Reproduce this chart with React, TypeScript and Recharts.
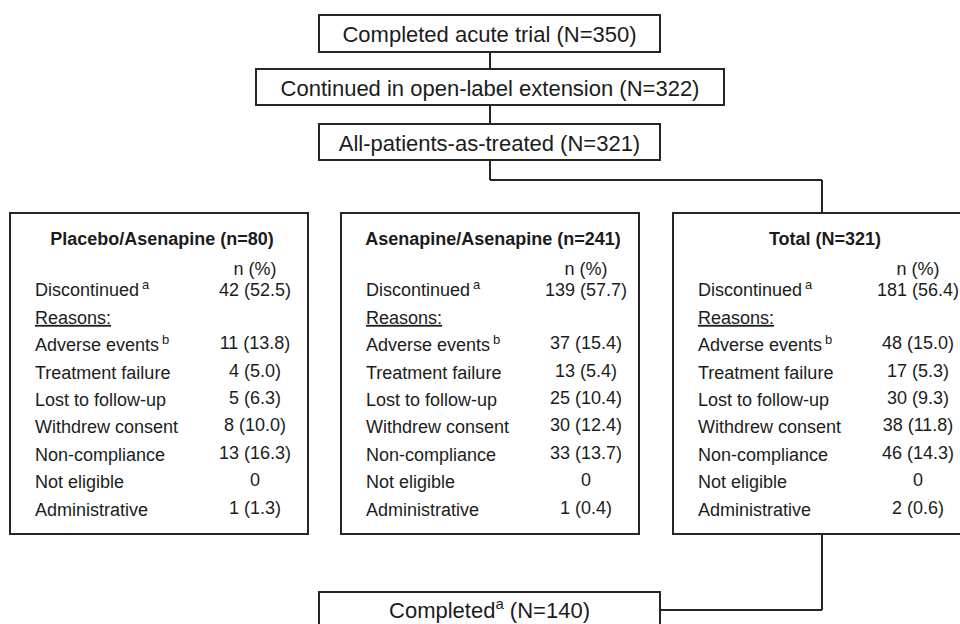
import { ScatterChart, Scatter, XAxis, YAxis, ReferenceArea, ReferenceLine } from 'recharts';

// flow steps at the top
const stepLabels = ['Completed acute trial', 'Continued in open-label extension', 'All-patients-as-treated'];
const stepCounts = [350, 322, 321];

// the three arm boxes
const armNames = ['Placebo/Asenapine', 'Asenapine/Asenapine', 'Total'];
const armNLabel = ['n', 'n', 'N'];
const armN = [80, 241, 321];
const discontinuedN = [42, 139, 181];
const discontinuedPct = [52.5, 57.7, 56.4];

const reasons = ['Adverse events', 'Treatment failure', 'Lost to follow-up', 'Withdrew consent', 'Non-compliance', 'Not eligible', 'Administrative'];
const reasonSup = ['b', '', '', '', '', '', ''];
const placeboN = [11, 4, 5, 8, 13, 0, 1];
const placeboPct = [13.8, 5.0, 6.3, 10.0, 16.3, 0, 1.3];
const asenapineN = [37, 13, 25, 30, 33, 0, 1];
const asenapinePct = [15.4, 5.4, 10.4, 12.4, 13.7, 0, 0.4];
const totalN = [48, 17, 30, 38, 46, 0, 2];
const totalPct = [15.0, 5.3, 9.3, 11.8, 14.3, 0, 0.6];

const completedN = 140;

const W = 960;
const H = 624;
const LINE = '#262626';
const INK = '#1c1c1c';
const FONT = '"Liberation Sans", Arial, sans-serif';

const fmt = (n: number, p: number) => (n === 0 ? '0' : `${n} (${p.toFixed(1)})`);

// layout
const stepBoxes = [
  { x1: 319, x2: 660, y1: 15, y2: 52 },
  { x1: 256, x2: 724, y1: 69, y2: 105 },
  { x1: 319, x2: 660, y1: 124, y2: 160 },
];
const armLeft = [10, 341, 673];
const armW = 298;
const armTop = 213;
const armBottom = 534;
const completedBox = { x1: 319, x2: 660, y1: 592, y2: 640 };
const midX = 490;
const totalX = 822;

type Item = {
  x: number;
  y: number;
  text: string;
  sup?: string;
  supGap?: number;
  after?: string;
  size: number;
  bold?: boolean;
  anchor: 'start' | 'middle' | 'end';
  underline?: boolean;
};

const items: Item[] = [];
stepLabels.forEach((s, i) => {
  const b = stepBoxes[i];
  items.push({ x: (b.x1 + b.x2) / 2, y: (b.y1 + b.y2) / 2 + 1, text: `${s} (N=${stepCounts[i]})`, size: 22, anchor: 'middle' });
});

const armValues = [
  [placeboN, placeboPct],
  [asenapineN, asenapinePct],
  [totalN, totalPct],
];

armNames.forEach((name, a) => {
  const left = armLeft[a];
  const lx = left + 25;
  const vx = left + 245;
  items.push({ x: left + armW / 2 + 3, y: 239, text: `${name} (${armNLabel[a]}=${armN[a]})`, size: 18, bold: true, anchor: 'middle' });
  items.push({ x: vx, y: 269, text: 'n (%)', size: 18, anchor: 'middle' });
  items.push({ x: lx, y: 290, text: 'Discontinued', sup: 'a', supGap: 3, size: 18, anchor: 'start' });
  items.push({ x: vx, y: 290, text: fmt(discontinuedN[a], discontinuedPct[a]), size: 18, anchor: 'middle' });
  items.push({ x: lx, y: 317.4, text: 'Reasons:', size: 18, anchor: 'start', underline: true });
  const [ns, ps] = armValues[a];
  reasons.forEach((r, k) => {
    const y = 344.8 + k * 27.4;
    items.push({ x: lx, y, text: r, sup: reasonSup[k] || undefined, supGap: 3, size: 18, anchor: 'start' });
    items.push({ x: vx, y: y - 2, text: fmt(ns[k], ps[k]), size: 18, anchor: 'middle' });
  });
});

items.push({ x: (completedBox.x1 + completedBox.x2) / 2, y: 610, text: 'Completed', sup: 'a', after: ` (N=${completedN})`, size: 22, anchor: 'middle' });

const connectors = [
  [midX, stepBoxes[0].y2, midX, stepBoxes[1].y1],
  [midX, stepBoxes[1].y2, midX, stepBoxes[2].y1],
  [midX, stepBoxes[2].y2, midX, 180],
  [midX, 180, totalX, 180],
  [totalX, 180, totalX, armTop],
  [totalX, armBottom, totalX, 610],
  [totalX, 610, completedBox.x2, 610],
];

const renderText = (props: any) => {
  const { cx, cy, payload } = props;
  const p = payload as Item;
  const supSize = Math.round(p.size * 0.7);
  return (
    <text
      x={cx}
      y={cy + p.size * 0.36}
      textAnchor={p.anchor}
      fontFamily={FONT}
      fontSize={p.size}
      fontWeight={p.bold ? 700 : 400}
      fill={INK}
      textDecoration={p.underline ? 'underline' : undefined}
    >
      <tspan>{p.text}</tspan>
      {p.sup ? (
        <tspan fontSize={supSize} dx={p.supGap || 0} dy={-p.size * 0.4}>
          {p.sup}
        </tspan>
      ) : null}
      {p.after ? <tspan dy={p.size * 0.4}>{p.after}</tspan> : null}
    </text>
  );
};

export default function App() {
  return (
    <div style={{ position: 'absolute', left: 0, top: 0, width: W, height: H, background: '#fff' }}>
      <ScatterChart width={W} height={H} margin={{ top: 0, right: 0, bottom: 0, left: 0 }}>
        <XAxis type="number" dataKey="x" domain={[0, W]} allowDataOverflow hide />
        <YAxis type="number" dataKey="y" domain={[0, H]} allowDataOverflow reversed hide />
        {stepBoxes.map((b, i) => (
          <ReferenceArea key={`s${i}`} {...b} fill="none" stroke={LINE} strokeWidth={2} ifOverflow="visible" />
        ))}
        {armLeft.map((l, i) => (
          <ReferenceArea key={`a${i}`} x1={l} x2={l + armW} y1={armTop} y2={armBottom} fill="none" stroke={LINE} strokeWidth={2} ifOverflow="visible" />
        ))}
        <ReferenceArea {...completedBox} fill="none" stroke={LINE} strokeWidth={2} ifOverflow="visible" />
        {connectors.map((c, i) => (
          <ReferenceLine
            key={`c${i}`}
            segment={[
              { x: c[0], y: c[1] },
              { x: c[2], y: c[3] },
            ]}
            stroke={LINE}
            strokeWidth={2}
            ifOverflow="visible"
          />
        ))}
        <Scatter data={items} shape={renderText} isAnimationActive={false} />
      </ScatterChart>
    </div>
  );
}
